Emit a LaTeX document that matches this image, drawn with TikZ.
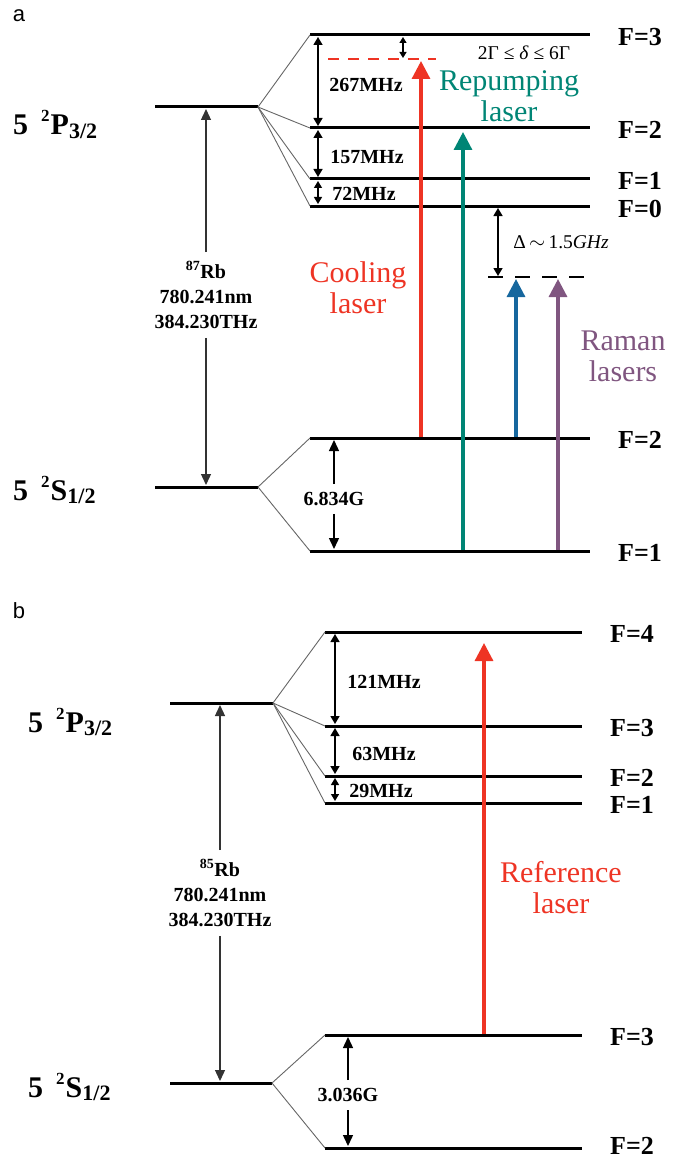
\documentclass[tikz,border=0pt]{standalone}
\usepackage{fontspec}
\setmainfont{Liberation Serif}
\newfontfamily\panelfont{Liberation Sans}
\usetikzlibrary{arrows.meta}
\definecolor{lasred}{RGB}{238,52,36}
\definecolor{lasteal}{RGB}{0,133,117}
\definecolor{lasblue}{RGB}{22,103,158}
\definecolor{laspurple}{RGB}{128,86,128}
\newcommand{\termsym}[2]{5\hspace{13pt}\raisebox{13pt}{\fontsize{17}{17}\selectfont 2}\hspace{1pt}#1\raisebox{-3.5pt}{\fontsize{22}{22}\selectfont #2}}
\begin{document}
\begin{tikzpicture}[x=1pt,y=-1pt,
 level/.style={line width=3pt, line cap=butt},
 fan/.style={line width=0.9pt, black!60},
 gaparrow/.style={line width=1.4pt, {Triangle[length=8pt,width=9pt]}-{Triangle[length=8pt,width=9pt]}},
 halfarrow/.style={line width=1.4pt, -{Triangle[length=11pt,width=10pt]}},
 bigarrow/.style={line width=1.3pt, black!80, -{Triangle[length=11pt,width=10pt]}},
 laser/.style={line width=3.2pt, -{Triangle[length=18pt,width=18pt]}},
 flab/.style={anchor=west, font=\fontsize{26}{26}\selectfont\bfseries, inner sep=0pt},
 freq/.style={font=\fontsize{20}{20}\selectfont\bfseries, inner sep=0pt},
 lastext/.style={font=\fontsize{30}{31}\selectfont, align=center, inner sep=0pt},
 statelab/.style={anchor=base west, font=\fontsize{30}{30}\selectfont\bfseries, inner sep=0pt},
 rblab/.style={font=\fontsize{20}{25}\selectfont\bfseries, align=center, inner xsep=2pt},
 panellab/.style={font=\panelfont\fontsize{22}{22}\selectfont, inner sep=0pt},
 smalltext/.style={font=\fontsize{19.5}{19.5}\selectfont, inner sep=0pt}
]
\useasboundingbox (0,0) rectangle (683,1161);

% ================= panel a =================
\node[panellab] (pa) at (19,16) {a};

% fine-structure levels
\coordinate (PaL) at (155,107); \coordinate (PaR) at (258,107);
\coordinate (SaL) at (155,487); \coordinate (SaR) at (258,487);
\draw[level] (PaL) -- (PaR);
\draw[level] (SaL) -- (SaR);
\node[statelab] (PaLab) at (13,135) {\termsym{P}{3/2}};
\node[statelab] (SaLab) at (13,500) {\termsym{S}{1/2}};

% hyperfine levels
\foreach \n/\y in {a3/35, a2/128, a1/179, a0/206, ag2/438, ag1/551}{
  \coordinate (\n L) at (310,\y); \coordinate (\n R) at (590,\y);
  \draw[level] (\n L) -- (\n R);
}
\foreach \n in {a3,a2,a1,a0} \draw[fan] (PaR) -- (\n L);
\foreach \n in {ag2,ag1} \draw[fan] (SaR) -- (\n L);

\node[flab] (fa3) at (618,37) {F=3};
\node[flab] (fa2) at (618,130) {F=2};
\node[flab] (fa1) at (618,181) {F=1};
\node[flab] (fa0) at (618,209) {F=0};
\node[flab] (fag2) at (618,440) {F=2};
\node[flab] (fag1) at (618,553) {F=1};

% splittings
\coordinate (s267t) at (318,37); \coordinate (s267b) at (318,126);
\coordinate (s157t) at (318,130); \coordinate (s157b) at (318,177);
\coordinate (s72t) at (318,181); \coordinate (s72b) at (318,204);
\draw[gaparrow] (s267t) -- (s267b);
\draw[gaparrow] (s157t) -- (s157b);
\draw[gaparrow, {Triangle[length=7pt,width=8pt]}-{Triangle[length=7pt,width=8pt]}] (s72t) -- (s72b);
\node[freq] (f267) at (366,85) {267MHz};
\node[freq] (f157) at (367,157) {157MHz};
\node[freq] (f72) at (364,194) {72MHz};

% cooling detuning
\coordinate (dashRL) at (328,59); \coordinate (dashRR) at (436,59);
\draw[lasred, line width=2pt, dash pattern=on 11pt off 9pt] (dashRL) -- (dashRR);
\coordinate (dt) at (403,37); \coordinate (db) at (403,58);
\draw[line width=1.2pt, {Triangle[length=6pt,width=7pt]}-{Triangle[length=6pt,width=7pt]}] (dt) -- (db);
\node[smalltext] (dlt) at (524,53) {2Γ ≤ \textit{δ} ≤ 6Γ};

% Raman detuning
\coordinate (dashKL) at (488,277); \coordinate (dashKR) at (584,277);
\draw[line width=2pt, dash pattern=on 15pt off 12pt] (dashKL) -- (dashKR);
\coordinate (Dt) at (498,208); \coordinate (Db) at (498,276);
\draw[gaparrow] (Dt) -- (Db);
\node[smalltext] (Dlab) at (561,242) {Δ\,$\sim$\,1.5\textit{GHz}};

% D2 line
\node[rblab, inner ysep=9pt] (rba) at (206,295) {\textsuperscript{87}Rb\\780.241nm\\384.230THz};
\coordinate (rbaT) at (206,109); \coordinate (rbaB) at (206,485);
\draw[bigarrow] (rba.north) -- (rbaT);
\draw[bigarrow] (rba.south) -- (rbaB);

% ground splitting
\node[freq, inner ysep=8pt] (g6834) at (334,499) {6.834G};
\coordinate (g6t) at (334,440); \coordinate (g6b) at (334,549);
\draw[halfarrow] (g6834.north) -- (g6t);
\draw[halfarrow] (g6834.south) -- (g6b);

% lasers
\coordinate (coolS) at (421,437); \coordinate (coolE) at (421,61);
\coordinate (repS) at (463,550); \coordinate (repE) at (463,132);
\coordinate (ram1S) at (516,437); \coordinate (ram1E) at (516,279);
\coordinate (ram2S) at (558,550); \coordinate (ram2E) at (558,279);
\draw[laser, lasred] (coolS) -- (coolE);
\draw[laser, lasteal] (repS) -- (repE);
\draw[laser, lasblue] (ram1S) -- (ram1E);
\draw[laser, laspurple] (ram2S) -- (ram2E);

\node[lastext, text=lasred] (cool) at (358,288) {Cooling\\laser};
\node[lastext, text=lasteal] (rep) at (509,96) {Repumping\\laser};
\node[lastext, text=laspurple] (ram) at (623,356) {Raman\\lasers};

% ================= panel b =================
\node[panellab] (pb) at (19,611) {b};

\coordinate (PbL) at (170,703); \coordinate (PbR) at (273,703);
\coordinate (SbL) at (170,1083); \coordinate (SbR) at (272,1083);
\draw[level] (PbL) -- (PbR);
\draw[level] (SbL) -- (SbR);
\node[statelab] (PbLab) at (28,732) {\termsym{P}{3/2}};
\node[statelab] (SbLab) at (28,1097) {\termsym{S}{1/2}};

\foreach \n/\y in {b4/632, b3/726, b2/776, b1/803, bg3/1035, bg2/1148}{
  \coordinate (\n L) at (325,\y); \coordinate (\n R) at (582,\y);
  \draw[level] (\n L) -- (\n R);
}
\foreach \n in {b4,b3,b2,b1} \draw[fan] (PbR) -- (\n L);
\foreach \n in {bg3,bg2} \draw[fan] (SbR) -- (\n L);

\node[flab] (fb4) at (610,634) {F=4};
\node[flab] (fb3) at (610,728) {F=3};
\node[flab] (fb2) at (610,778) {F=2};
\node[flab] (fb1) at (610,805) {F=1};
\node[flab] (fbg3) at (610,1037) {F=3};
\node[flab] (fbg2) at (610,1146) {F=2};

\coordinate (s121t) at (335,634); \coordinate (s121b) at (335,724);
\coordinate (s63t) at (335,728); \coordinate (s63b) at (335,774);
\coordinate (s29t) at (335,778); \coordinate (s29b) at (335,801);
\draw[gaparrow] (s121t) -- (s121b);
\draw[gaparrow] (s63t) -- (s63b);
\draw[gaparrow, {Triangle[length=7pt,width=8pt]}-{Triangle[length=7pt,width=8pt]}] (s29t) -- (s29b);
\node[freq] (f121) at (384,682) {121MHz};
\node[freq] (f63) at (384,754) {63MHz};
\node[freq] (f29) at (381,791) {29MHz};

\node[rblab, inner ysep=9pt] (rbb) at (220,893) {\textsuperscript{85}Rb\\780.241nm\\384.230THz};
\coordinate (rbbT) at (220,705); \coordinate (rbbB) at (220,1081);
\draw[bigarrow] (rbb.north) -- (rbbT);
\draw[bigarrow] (rbb.south) -- (rbbB);

\node[freq, inner ysep=8pt] (g3036) at (348,1095) {3.036G};
\coordinate (g3t) at (348,1037); \coordinate (g3b) at (348,1146);
\draw[halfarrow] (g3036.north) -- (g3t);
\draw[halfarrow] (g3036.south) -- (g3b);

\coordinate (refS) at (484,1034); \coordinate (refE) at (484,643);
\draw[laser, lasred] (refS) -- (refE);
\node[lastext, text=lasred] (ref) at (561,888) {Reference\\laser};

\end{tikzpicture}
\end{document}
